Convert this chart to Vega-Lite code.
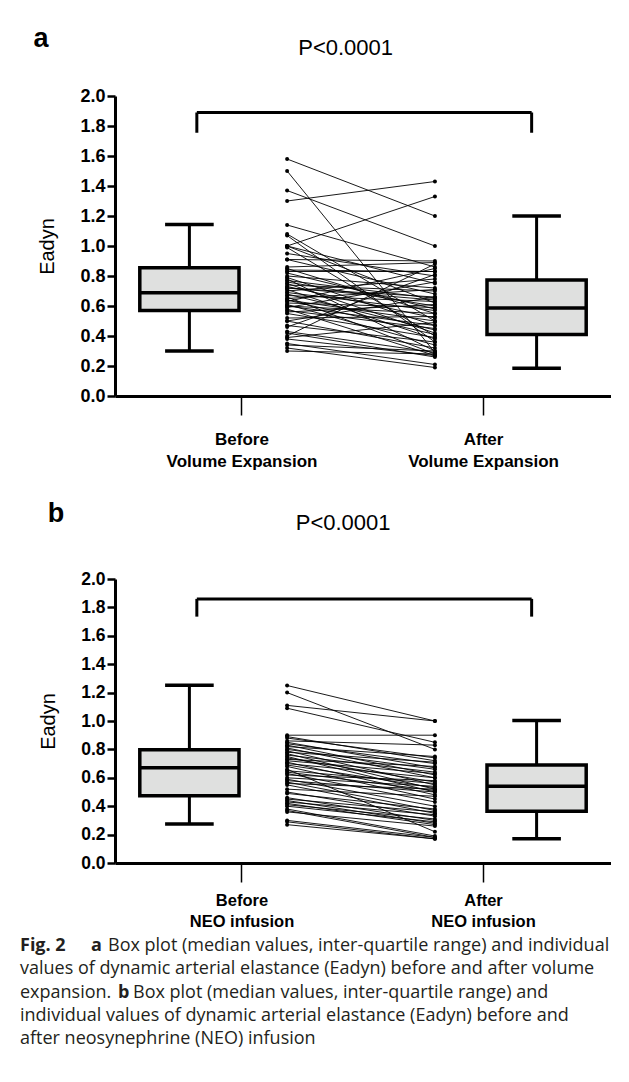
{
  "$schema": "https://vega.github.io/schema/vega-lite/v6.json",
  "padding": {"left": 20, "top": 24, "right": 0, "bottom": 0},
  "background": "white",
  "config": {
    "font": "Liberation Sans",
    "view": {"stroke": null},
    "axis": {"grid": false, "domainColor": "black", "tickColor": "black", "labelColor": "black", "titleColor": "black"},
    "axisY": {"values": [0, 0.2, 0.4, 0.6, 0.8, 1.0, 1.2, 1.4, 1.6, 1.8, 2.0], "format": ".1f", "labelFontSize": 18, "labelFontWeight": "bold", "tickSize": 8, "tickWidth": 2.5, "domainWidth": 3, "labelPadding": 2, "titleFontSize": 20, "titleFontWeight": "normal", "titlePadding": 22},
    "axisX": {"tickSize": 19, "tickWidth": 1.5, "domainWidth": 3, "labelFontSize": 17, "labelFontWeight": "bold", "labelPadding": 16, "labelLineHeight": 22}
  },
  "datasets": {
    "a_pairs": [
      {"id": 1, "before": 1.58, "after": 1.20}, {"id": 2, "before": 1.50, "after": 0.29}, {"id": 3, "before": 1.37, "after": 1.00},
      {"id": 4, "before": 1.30, "after": 1.43}, {"id": 5, "before": 1.00, "after": 1.33}, {"id": 6, "before": 1.14, "after": 0.86},
      {"id": 7, "before": 1.08, "after": 0.50}, {"id": 8, "before": 1.07, "after": 0.36}, {"id": 9, "before": 1.00, "after": 0.75},
      {"id": 10, "before": 1.00, "after": 0.62}, {"id": 11, "before": 0.99, "after": 0.40}, {"id": 12, "before": 0.95, "after": 0.80},
      {"id": 13, "before": 0.91, "after": 0.90}, {"id": 14, "before": 0.91, "after": 0.68}, {"id": 15, "before": 0.86, "after": 0.89},
      {"id": 16, "before": 0.85, "after": 0.55}, {"id": 17, "before": 0.84, "after": 0.83}, {"id": 18, "before": 0.83, "after": 0.83},
      {"id": 19, "before": 0.82, "after": 0.58}, {"id": 20, "before": 0.80, "after": 0.72}, {"id": 21, "before": 0.79, "after": 0.47},
      {"id": 22, "before": 0.78, "after": 0.30}, {"id": 23, "before": 0.77, "after": 0.65}, {"id": 24, "before": 0.76, "after": 0.60},
      {"id": 25, "before": 0.75, "after": 0.42}, {"id": 26, "before": 0.74, "after": 0.70}, {"id": 27, "before": 0.73, "after": 0.52},
      {"id": 28, "before": 0.72, "after": 0.66}, {"id": 29, "before": 0.71, "after": 0.38}, {"id": 30, "before": 0.70, "after": 0.78},
      {"id": 31, "before": 0.69, "after": 0.57}, {"id": 32, "before": 0.68, "after": 0.44}, {"id": 33, "before": 0.67, "after": 0.63},
      {"id": 34, "before": 0.66, "after": 0.28}, {"id": 35, "before": 0.65, "after": 0.71}, {"id": 36, "before": 0.64, "after": 0.50},
      {"id": 37, "before": 0.63, "after": 0.85}, {"id": 38, "before": 0.62, "after": 0.59}, {"id": 39, "before": 0.61, "after": 0.34},
      {"id": 40, "before": 0.60, "after": 0.47}, {"id": 41, "before": 0.59, "after": 0.76}, {"id": 42, "before": 0.58, "after": 0.27},
      {"id": 43, "before": 0.57, "after": 0.45}, {"id": 44, "before": 0.56, "after": 0.61}, {"id": 45, "before": 0.55, "after": 0.39},
      {"id": 46, "before": 0.52, "after": 0.53}, {"id": 47, "before": 0.50, "after": 0.32}, {"id": 48, "before": 0.50, "after": 0.66},
      {"id": 49, "before": 0.47, "after": 0.36}, {"id": 50, "before": 0.46, "after": 0.81}, {"id": 51, "before": 0.43, "after": 0.29},
      {"id": 52, "before": 0.42, "after": 0.26}, {"id": 53, "before": 0.40, "after": 0.88}, {"id": 54, "before": 0.39, "after": 0.49},
      {"id": 55, "before": 0.38, "after": 0.27}, {"id": 56, "before": 0.35, "after": 0.21}, {"id": 57, "before": 0.34, "after": 0.30},
      {"id": 58, "before": 0.32, "after": 0.19}, {"id": 59, "before": 0.30, "after": 0.28}, {"id": 60, "before": 0.60, "after": 0.55},
      {"id": 61, "before": 0.72, "after": 0.64}, {"id": 62, "before": 0.64, "after": 0.41}
    ],
    "b_pairs": [
      {"id": 1, "before": 1.25, "after": 1.00}, {"id": 2, "before": 1.20, "after": 0.80}, {"id": 3, "before": 1.11, "after": 1.00},
      {"id": 4, "before": 1.09, "after": 0.85}, {"id": 5, "before": 0.90, "after": 0.90}, {"id": 6, "before": 0.89, "after": 0.72},
      {"id": 7, "before": 0.88, "after": 0.74}, {"id": 8, "before": 0.86, "after": 0.83}, {"id": 9, "before": 0.85, "after": 0.67},
      {"id": 10, "before": 0.84, "after": 0.70}, {"id": 11, "before": 0.83, "after": 0.62}, {"id": 12, "before": 0.82, "after": 0.75},
      {"id": 13, "before": 0.81, "after": 0.60}, {"id": 14, "before": 0.80, "after": 0.66}, {"id": 15, "before": 0.79, "after": 0.55},
      {"id": 16, "before": 0.78, "after": 0.71}, {"id": 17, "before": 0.77, "after": 0.52}, {"id": 18, "before": 0.76, "after": 0.64},
      {"id": 19, "before": 0.75, "after": 0.50}, {"id": 20, "before": 0.74, "after": 0.57}, {"id": 21, "before": 0.73, "after": 0.68},
      {"id": 22, "before": 0.71, "after": 0.48}, {"id": 23, "before": 0.70, "after": 0.60}, {"id": 24, "before": 0.69, "after": 0.53},
      {"id": 25, "before": 0.68, "after": 0.45}, {"id": 26, "before": 0.66, "after": 0.22}, {"id": 27, "before": 0.65, "after": 0.56},
      {"id": 28, "before": 0.64, "after": 0.51}, {"id": 29, "before": 0.63, "after": 0.43}, {"id": 30, "before": 0.60, "after": 0.54},
      {"id": 31, "before": 0.59, "after": 0.40}, {"id": 32, "before": 0.58, "after": 0.50}, {"id": 33, "before": 0.57, "after": 0.37},
      {"id": 34, "before": 0.56, "after": 0.52}, {"id": 35, "before": 0.55, "after": 0.35}, {"id": 36, "before": 0.52, "after": 0.47},
      {"id": 37, "before": 0.50, "after": 0.33}, {"id": 38, "before": 0.49, "after": 0.38}, {"id": 39, "before": 0.46, "after": 0.30},
      {"id": 40, "before": 0.45, "after": 0.36}, {"id": 41, "before": 0.44, "after": 0.28}, {"id": 42, "before": 0.43, "after": 0.34},
      {"id": 43, "before": 0.42, "after": 0.27}, {"id": 44, "before": 0.41, "after": 0.31}, {"id": 45, "before": 0.40, "after": 0.29},
      {"id": 46, "before": 0.38, "after": 0.19}, {"id": 47, "before": 0.37, "after": 0.18}, {"id": 48, "before": 0.36, "after": 0.26},
      {"id": 49, "before": 0.30, "after": 0.18}, {"id": 50, "before": 0.29, "after": 0.17}, {"id": 51, "before": 0.27, "after": 0.17},
      {"id": 52, "before": 0.62, "after": 0.58}, {"id": 53, "before": 0.72, "after": 0.63}
    ],
    "a_box": [
      {"phase": "before", "lo": 0.30, "q1": 0.57, "med": 0.688, "q3": 0.855, "hi": 1.143},
      {"phase": "after", "lo": 0.185, "q1": 0.41, "med": 0.587, "q3": 0.774, "hi": 1.20}
    ],
    "b_box": [
      {"phase": "before", "lo": 0.275, "q1": 0.473, "med": 0.671, "q3": 0.798, "hi": 1.252},
      {"phase": "after", "lo": 0.171, "q1": 0.365, "med": 0.54, "q3": 0.69, "hi": 1.004}
    ],
    "a_ann": [{"panel": "a", "p": "P<0.0001"}],
    "b_ann": [{"panel": "b", "p": "P<0.0001"}],
    "caption": [
      {"line": 1, "seg": "startBold", "text": "Fig. 2"},
      {"line": 1, "seg": "boldA", "text": "a"},
      {"line": 1, "seg": "afterA", "text": "Box plot (median values, inter-quartile range) and individual"},
      {"line": 2, "seg": "start", "text": "values of dynamic arterial elastance (Eadyn) before and after volume"},
      {"line": 3, "seg": "start", "text": "expansion."},
      {"line": 3, "seg": "boldB", "text": "b"},
      {"line": 3, "seg": "afterB", "text": "Box plot (median values, inter-quartile range) and"},
      {"line": 4, "seg": "start", "text": "individual values of dynamic arterial elastance (Eadyn) before and"},
      {"line": 5, "seg": "start", "text": "after neosynephrine (NEO) infusion"}
    ]
  },
  "vconcat": [
    {
      "spacing": 31,
      "vconcat": [
        {
          "width": 496,
          "height": 300,
          "layer": [
            {
              "data": {"name": "a_ann"},
              "mark": {"type": "rule", "strokeWidth": 3, "color": "black"},
              "encoding": {
                "x": {"datum": 1.65, "type": "quantitative", "title": null, "scale": {"domain": [0, 10], "nice": false}, "axis": {"values": [2.55, 7.42], "labelExpr": "datum.value < 5 ? ['Before', 'Volume Expansion'] : ['After', 'Volume Expansion']"}},
                "x2": {"datum": 8.4},
                "y": {"datum": 1.89, "type": "quantitative", "title": "Eadyn", "scale": {"domain": [0, 2], "nice": false}}
              }
            },
            {
              "data": {"name": "a_ann"},
              "mark": {"type": "rule", "strokeWidth": 3, "color": "black"},
              "encoding": {"x": {"datum": 1.65, "type": "quantitative", "title": null}, "y": {"datum": 1.755, "type": "quantitative", "title": "Eadyn"}, "y2": {"datum": 1.89}}
            },
            {
              "data": {"name": "a_ann"},
              "mark": {"type": "rule", "strokeWidth": 3, "color": "black"},
              "encoding": {"x": {"datum": 8.4, "type": "quantitative", "title": null}, "y": {"datum": 1.755, "type": "quantitative", "title": "Eadyn"}, "y2": {"datum": 1.89}}
            },
            {
              "data": {"name": "a_ann"},
              "mark": {"type": "text", "fontSize": 22, "color": "black", "baseline": "alphabetic"},
              "encoding": {"x": {"datum": 4.65, "type": "quantitative", "title": null}, "y": {"datum": 2.275, "type": "quantitative", "title": "Eadyn"}, "text": {"field": "p"}}
            },
            {
              "data": {"name": "a_ann"},
              "mark": {"type": "text", "fontSize": 27, "fontWeight": "bold", "color": "black", "baseline": "alphabetic"},
              "encoding": {"x": {"datum": -1.49, "type": "quantitative", "title": null}, "y": {"datum": 2.33, "type": "quantitative", "title": "Eadyn"}, "text": {"field": "panel"}}
            },
            {
              "data": {"name": "a_box"},
              "transform": [
                {"calculate": "datum.phase === 'before' ? 1.5 : 8.5", "as": "c"},
                {"calculate": "datum.c - 1", "as": "l"},
                {"calculate": "datum.c + 1", "as": "r"},
                {"calculate": "datum.c - 0.49", "as": "cl"},
                {"calculate": "datum.c + 0.49", "as": "cr"}
              ],
              "layer": [
                {"mark": {"type": "rule", "strokeWidth": 3, "color": "black"}, "encoding": {"x": {"field": "c", "type": "quantitative", "title": null}, "y": {"field": "lo", "type": "quantitative", "title": "Eadyn"}, "y2": {"field": "hi"}}},
                {"mark": {"type": "rect", "fill": "#dfe0df", "stroke": "black", "strokeWidth": 3.5}, "encoding": {"x": {"field": "l", "type": "quantitative", "title": null}, "x2": {"field": "r"}, "y": {"field": "q1", "type": "quantitative", "title": "Eadyn"}, "y2": {"field": "q3"}}},
                {"mark": {"type": "rule", "strokeWidth": 3.5, "color": "black"}, "encoding": {"x": {"field": "l", "type": "quantitative", "title": null}, "x2": {"field": "r"}, "y": {"field": "med", "type": "quantitative", "title": "Eadyn"}}},
                {"mark": {"type": "rule", "strokeWidth": 3.5, "color": "black"}, "encoding": {"x": {"field": "cl", "type": "quantitative", "title": null}, "x2": {"field": "cr"}, "y": {"field": "lo", "type": "quantitative", "title": "Eadyn"}}},
                {"mark": {"type": "rule", "strokeWidth": 3.5, "color": "black"}, "encoding": {"x": {"field": "cl", "type": "quantitative", "title": null}, "x2": {"field": "cr"}, "y": {"field": "hi", "type": "quantitative", "title": "Eadyn"}}}
              ]
            },
            {
              "data": {"name": "a_pairs"},
              "transform": [
                {"fold": ["before", "after"], "as": ["phase", "e"]},
                {"calculate": "datum.phase === 'before' ? 3.47 : 6.45", "as": "slot"}
              ],
              "layer": [
                {"mark": {"type": "line", "strokeWidth": 0.9, "color": "black"}, "encoding": {"x": {"field": "slot", "type": "quantitative", "title": null}, "y": {"field": "e", "type": "quantitative", "title": "Eadyn"}, "detail": {"field": "id"}}},
                {"mark": {"type": "circle", "size": 16, "color": "black", "opacity": 1}, "encoding": {"x": {"field": "slot", "type": "quantitative", "title": null}, "y": {"field": "e", "type": "quantitative", "title": "Eadyn"}}}
              ]
            }
          ]
        },
        {
          "width": 496,
          "height": 284,
          "layer": [
            {
              "data": {"name": "b_ann"},
              "mark": {"type": "rule", "strokeWidth": 3, "color": "black"},
              "encoding": {
                "x": {"datum": 1.65, "type": "quantitative", "title": null, "scale": {"domain": [0, 10], "nice": false}, "axis": {"values": [2.55, 7.42], "labelFontSize": 16.5, "labelPadding": 10, "labelLineHeight": 21, "labelExpr": "datum.value < 5 ? ['Before', 'NEO infusion'] : ['After', 'NEO infusion']"}},
                "x2": {"datum": 8.4},
                "y": {"datum": 1.86, "type": "quantitative", "title": "Eadyn", "scale": {"domain": [0, 2], "nice": false}, "axis": {"labelFontSize": 17.5}}
              }
            },
            {
              "data": {"name": "b_ann"},
              "mark": {"type": "rule", "strokeWidth": 3, "color": "black"},
              "encoding": {"x": {"datum": 1.65, "type": "quantitative", "title": null}, "y": {"datum": 1.735, "type": "quantitative", "title": "Eadyn"}, "y2": {"datum": 1.86}}
            },
            {
              "data": {"name": "b_ann"},
              "mark": {"type": "rule", "strokeWidth": 3, "color": "black"},
              "encoding": {"x": {"datum": 8.4, "type": "quantitative", "title": null}, "y": {"datum": 1.735, "type": "quantitative", "title": "Eadyn"}, "y2": {"datum": 1.86}}
            },
            {
              "data": {"name": "b_ann"},
              "mark": {"type": "text", "fontSize": 22, "color": "black", "baseline": "alphabetic"},
              "encoding": {"x": {"datum": 4.6, "type": "quantitative", "title": null}, "y": {"datum": 2.345, "type": "quantitative", "title": "Eadyn"}, "text": {"field": "p"}}
            },
            {
              "data": {"name": "b_ann"},
              "mark": {"type": "text", "fontSize": 27, "fontWeight": "bold", "color": "black", "baseline": "alphabetic"},
              "encoding": {"x": {"datum": -1.19, "type": "quantitative", "title": null}, "y": {"datum": 2.4, "type": "quantitative", "title": "Eadyn"}, "text": {"field": "panel"}}
            },
            {
              "data": {"name": "b_box"},
              "transform": [
                {"calculate": "datum.phase === 'before' ? 1.5 : 8.5", "as": "c"},
                {"calculate": "datum.c - 1", "as": "l"},
                {"calculate": "datum.c + 1", "as": "r"},
                {"calculate": "datum.c - 0.49", "as": "cl"},
                {"calculate": "datum.c + 0.49", "as": "cr"}
              ],
              "layer": [
                {"mark": {"type": "rule", "strokeWidth": 3, "color": "black"}, "encoding": {"x": {"field": "c", "type": "quantitative", "title": null}, "y": {"field": "lo", "type": "quantitative", "title": "Eadyn"}, "y2": {"field": "hi"}}},
                {"mark": {"type": "rect", "fill": "#dfe0df", "stroke": "black", "strokeWidth": 3.5}, "encoding": {"x": {"field": "l", "type": "quantitative", "title": null}, "x2": {"field": "r"}, "y": {"field": "q1", "type": "quantitative", "title": "Eadyn"}, "y2": {"field": "q3"}}},
                {"mark": {"type": "rule", "strokeWidth": 3.5, "color": "black"}, "encoding": {"x": {"field": "l", "type": "quantitative", "title": null}, "x2": {"field": "r"}, "y": {"field": "med", "type": "quantitative", "title": "Eadyn"}}},
                {"mark": {"type": "rule", "strokeWidth": 3.5, "color": "black"}, "encoding": {"x": {"field": "cl", "type": "quantitative", "title": null}, "x2": {"field": "cr"}, "y": {"field": "lo", "type": "quantitative", "title": "Eadyn"}}},
                {"mark": {"type": "rule", "strokeWidth": 3.5, "color": "black"}, "encoding": {"x": {"field": "cl", "type": "quantitative", "title": null}, "x2": {"field": "cr"}, "y": {"field": "hi", "type": "quantitative", "title": "Eadyn"}}}
              ]
            },
            {
              "data": {"name": "b_pairs"},
              "transform": [
                {"fold": ["before", "after"], "as": ["phase", "e"]},
                {"calculate": "datum.phase === 'before' ? 3.47 : 6.45", "as": "slot"}
              ],
              "layer": [
                {"mark": {"type": "line", "strokeWidth": 0.9, "color": "black"}, "encoding": {"x": {"field": "slot", "type": "quantitative", "title": null}, "y": {"field": "e", "type": "quantitative", "title": "Eadyn"}, "detail": {"field": "id"}}},
                {"mark": {"type": "circle", "size": 16, "color": "black", "opacity": 1}, "encoding": {"x": {"field": "slot", "type": "quantitative", "title": null}, "y": {"field": "e", "type": "quantitative", "title": "Eadyn"}}}
              ]
            }
          ]
        }
      ]
    },
    {
      "width": 496,
      "height": 117,
      "data": {"name": "caption"},
      "encoding": {
        "x": {"datum": -95, "type": "quantitative", "scale": {"domain": [0, 496], "nice": false}, "axis": null},
        "y": {"field": "line", "type": "quantitative", "scale": {"domain": [0.5, 5.5], "reverse": true, "nice": false, "zero": false}, "axis": null},
        "text": {"field": "text"}
      },
      "layer": [
        {"transform": [{"filter": "datum.seg === 'start'"}], "mark": {"type": "text", "align": "left", "baseline": "middle", "font": "Open Sans", "fontSize": 18, "color": "#231f20"}},
        {"transform": [{"filter": "datum.seg === 'startBold'"}], "mark": {"type": "text", "align": "left", "baseline": "middle", "font": "Open Sans", "fontSize": 18, "fontWeight": "bold", "color": "#231f20"}},
        {"transform": [{"filter": "datum.seg === 'boldA'"}], "mark": {"type": "text", "align": "left", "baseline": "middle", "font": "Open Sans", "fontSize": 18, "fontWeight": "bold", "dx": 71, "color": "#231f20"}},
        {"transform": [{"filter": "datum.seg === 'afterA'"}], "mark": {"type": "text", "align": "left", "baseline": "middle", "font": "Open Sans", "fontSize": 18, "dx": 88, "color": "#231f20"}},
        {"transform": [{"filter": "datum.seg === 'boldB'"}], "mark": {"type": "text", "align": "left", "baseline": "middle", "font": "Open Sans", "fontSize": 18, "fontWeight": "bold", "dx": 98, "color": "#231f20"}},
        {"transform": [{"filter": "datum.seg === 'afterB'"}], "mark": {"type": "text", "align": "left", "baseline": "middle", "font": "Open Sans", "fontSize": 18, "dx": 113, "color": "#231f20"}}
      ]
    }
  ],
  "spacing": 4
}
